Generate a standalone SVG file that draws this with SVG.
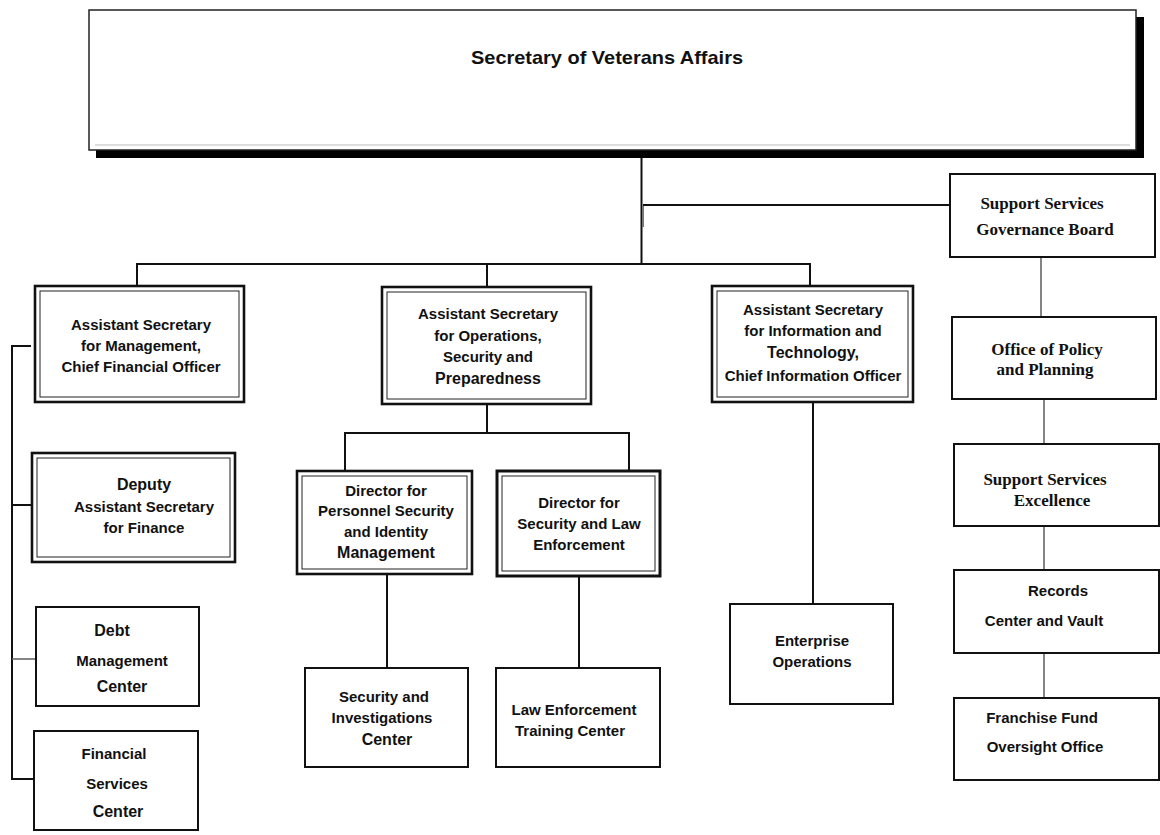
<svg xmlns="http://www.w3.org/2000/svg" width="1160" height="835" viewBox="0 0 1160 835">
<style>
.bg{fill:#fff}
.o2{fill:#fff;stroke:#111;stroke-width:2.6}
.i2{fill:none;stroke:#222;stroke-width:1}
.s{fill:#fff;stroke:#111;stroke-width:2}
.t{font-family:"Liberation Sans",Arial,sans-serif;font-weight:bold;font-size:15px;fill:#111;text-anchor:middle}
.tl{font-size:16px}
.sf{font-family:"Liberation Serif","Times New Roman",serif;font-weight:bold;font-size:17px;fill:#111;text-anchor:middle}
.c{stroke:#111;stroke-width:2;fill:none}
.cg{stroke:#666;stroke-width:1.6;fill:none}
</style>
<rect class="bg" x="0" y="0" width="1160" height="835"/>
<g id="connectors">
<path class="c" d="M641.5 158 V264"/>
<path class="c" d="M643 205 H950"/>
<path d="M643 206 V227" stroke="#777" stroke-width="2"/>
<path class="c" d="M137 286 V264 H810 V286"/>
<path class="c" d="M487 264 V287"/>
<path class="c" d="M487 404 V433"/>
<path class="c" d="M345 471 V433 H629 V472"/>
<path class="c" d="M387 574 V668"/>
<path class="c" d="M579 577 V668"/>
<path class="c" d="M813 402 V604"/>
<path class="c" d="M31 346 H12 V779 H34"/>
<path class="c" d="M12 505 H32"/>
<path class="cg" d="M12 659 H36"/>
<path class="cg" d="M1041 257 V316"/>
<path class="cg" d="M1044 398 V444"/>
<path class="cg" d="M1044 526 V570"/>
<path class="cg" d="M1044 653 V698"/>
</g>
<g id="secretary">
<rect x="96" y="17" width="1048" height="141" fill="#000"/>
<rect x="89" y="10" width="1047" height="140" fill="#fff" stroke="#222" stroke-width="1.5"/>
<line x1="95" y1="145" x2="1130" y2="145" stroke="#bbb" stroke-width="1.2"/>
<text class="t" x="607" y="64" style="font-size:19px" textLength="272" lengthAdjust="spacingAndGlyphs">Secretary of Veterans Affairs</text>
</g>
<g id="as-management">
<rect class="o2" x="35" y="286" width="209" height="116"/>
<rect class="i2" x="40" y="291" width="199" height="106"/>
<text class="t" x="141" y="330">Assistant Secretary</text>
<text class="t" x="141" y="351">for Management,</text>
<text class="t" x="141" y="372">Chief Financial Officer</text>
</g>
<g id="as-operations">
<rect class="o2" x="382" y="287" width="209" height="117"/>
<rect class="i2" x="387" y="292" width="199" height="107"/>
<text class="t" x="488" y="319">Assistant Secretary</text>
<text class="t" x="488" y="341">for  Operations,</text>
<text class="t" x="488" y="362">Security and</text>
<text class="t tl" x="488" y="384">Preparedness</text>
</g>
<g id="as-it">
<rect class="o2" x="712" y="286" width="201" height="116"/>
<rect class="i2" x="717" y="291" width="191" height="106"/>
<text class="t" x="813" y="315">Assistant Secretary</text>
<text class="t" x="813" y="336">for Information and</text>
<text class="t tl" x="813" y="358">Technology,</text>
<text class="t" x="813" y="381">Chief Information Officer</text>
</g>
<g id="deputy-finance">
<rect class="o2" x="32" y="453" width="203" height="109"/>
<rect class="i2" x="37" y="458" width="193" height="99"/>
<text class="t tl" x="144" y="490">Deputy</text>
<text class="t" x="144" y="512">Assistant Secretary</text>
<text class="t" x="144" y="533">for Finance</text>
</g>
<g id="debt-management">
<rect class="s" x="36" y="607" width="163" height="99"/>
<text class="t tl" x="112" y="636">Debt</text>
<text class="t" x="122" y="666">Management</text>
<text class="t tl" x="122" y="692">Center</text>
</g>
<g id="financial-services">
<rect class="s" x="34" y="731" width="164" height="99"/>
<text class="t" x="114" y="759">Financial</text>
<text class="t" x="117" y="789">Services</text>
<text class="t tl" x="118" y="817">Center</text>
</g>
<g id="dir-personnel">
<rect class="o2" x="297" y="471" width="175" height="103"/>
<rect class="i2" x="302" y="476" width="165" height="93"/>
<text class="t" x="386" y="496">Director for</text>
<text class="t" x="386" y="516">Personnel Security</text>
<text class="t" x="386" y="537">and Identity</text>
<text class="t tl" x="386" y="558">Management</text>
</g>
<g id="dir-law">
<rect class="o2" x="497" y="471" width="163" height="105" style="stroke-width:3"/>
<rect class="i2" x="502" y="476" width="153" height="95"/>
<text class="t" x="579" y="508">Director for</text>
<text class="t" x="579" y="529">Security and Law</text>
<text class="t" x="579" y="550">Enforcement</text>
</g>
<g id="security-investigations">
<rect class="s" x="305" y="668" width="163" height="99"/>
<text class="t" x="384" y="702">Security and</text>
<text class="t" x="382" y="723">Investigations</text>
<text class="t tl" x="387" y="745">Center</text>
</g>
<g id="law-training">
<rect class="s" x="496" y="668" width="164" height="99"/>
<text class="t" x="574" y="715">Law  Enforcement</text>
<text class="t" x="570" y="736">Training Center</text>
</g>
<g id="enterprise-ops">
<rect class="s" x="730" y="604" width="163" height="100"/>
<text class="t" x="812" y="646">Enterprise</text>
<text class="t" x="812" y="667">Operations</text>
</g>
<g id="governance-board">
<rect class="s" x="950" y="174" width="205" height="83"/>
<text class="sf" x="1042" y="209">Support  Services</text>
<text class="sf" x="1045" y="235">Governance Board</text>
</g>
<g id="policy-planning">
<rect class="s" x="952" y="317" width="204" height="82"/>
<text class="sf" x="1047" y="355">Office of Policy</text>
<text class="sf" x="1045" y="375">and Planning</text>
</g>
<g id="ss-excellence">
<rect class="s" x="954" y="444" width="205" height="82"/>
<text class="sf" x="1045" y="485">Support  Services</text>
<text class="sf" x="1052" y="506">Excellence</text>
</g>
<g id="records-vault">
<rect class="s" x="954" y="570" width="205" height="83"/>
<text class="t" x="1058" y="596">Records</text>
<text class="t" x="1044" y="626">Center and Vault</text>
</g>
<g id="franchise-fund">
<rect class="s" x="954" y="698" width="205" height="82"/>
<text class="t" x="1042" y="723">Franchise  Fund</text>
<text class="t" x="1045" y="752">Oversight  Office</text>
</g>
</svg>
